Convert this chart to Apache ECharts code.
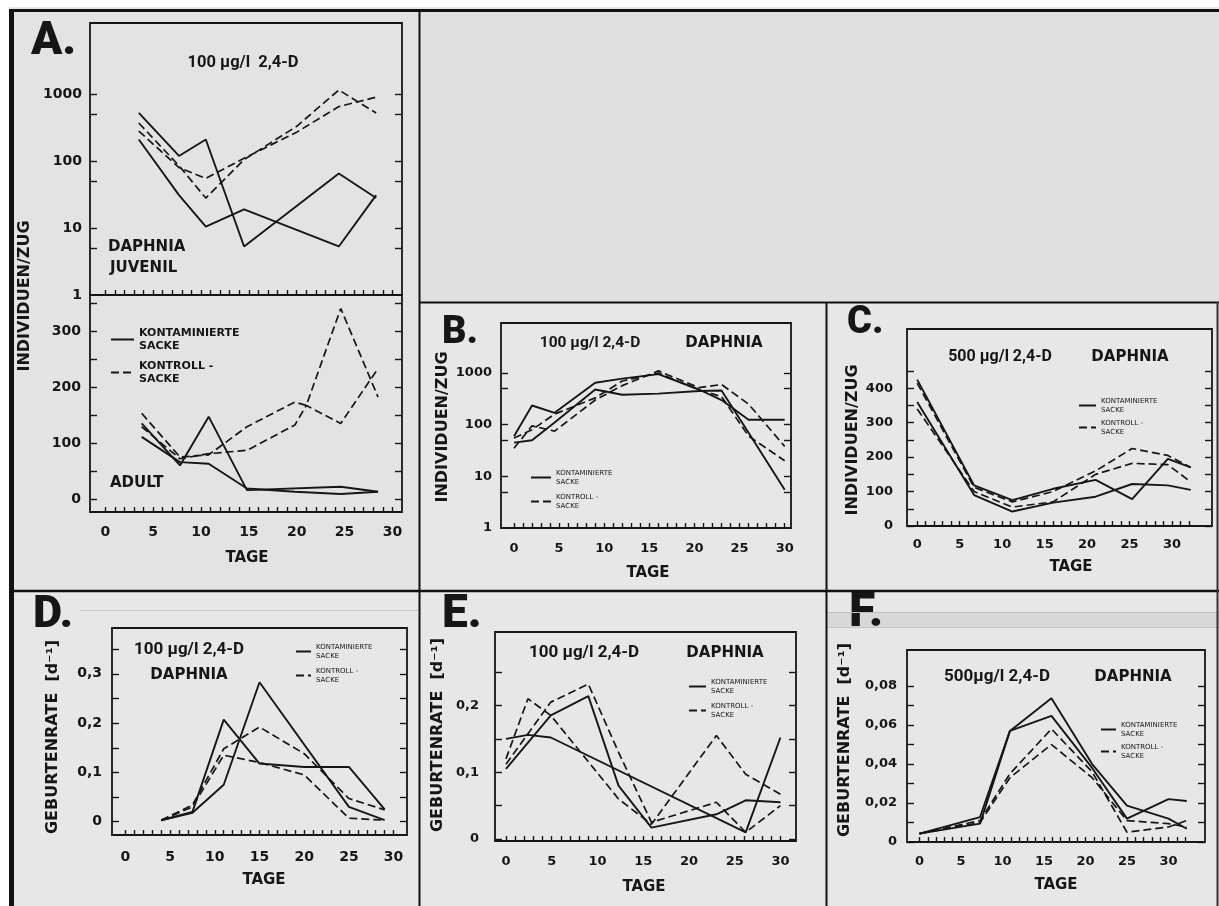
<!DOCTYPE html>
<html><head><meta charset="utf-8">
<script src="https://cdn.jsdelivr.net/npm/echarts@6/dist/echarts.min.js"></script>
<style>html,body{margin:0;padding:0;background:#fff}#c{width:1219px;height:906px}</style>
</head><body><div id="c"></div>
<script>
// ---------------- DATA ----------------
const KONT = 'KONTAMINIERTE\nSACKE';
const KONTR = 'KONTROLL -\nSACKE';

// Panel A, juvenile (log)
const aJuvDays    = [3.5, 7.7, 10.5, 14.5, 20, 24.4, 28.3];
const aJuvKont1   = [525, 119, 210, 5.3, null, 65, 28];
const aJuvKont2   = [210, 31, 10.5, 19, null, 5.3, 31];
const aJuvKontr1  = [370, 85, 28, 105, 330, 1150, 520];
const aJuvKontr2  = [280, 80, 55, 110, 270, 650, 900];
// Panel A, adult (linear)
const aAdDays     = [3.8, 7.8, 10.8, 14.8, 19.8, 21, 24.6, 28.5];
const aAdKont1    = [136, 61, 148, 17, null, null, 23, 14];
const aAdKont2    = [112, 67, 64, 20, 14, null, 10, 14];
const aAdKontr1   = [154, 76, 80, 130, 174, 168, 341, 183];
const aAdKontr2   = [130, 73, 82, 88, 133, 168, 136, 234];
// Panel B (log)
const bDays       = [0, 2, 4.5, 9, 12, 16, 20.5, 23, 26, 30];
const bKont1      = [60, 235, 170, 650, 780, 950, 480, 300, 125, 125];
const bKont2      = [45, 50, 110, 480, 380, 400, 450, 460, 70, 5.5];
const bKontr1     = [35, 95, 75, 300, 570, 1100, 520, 600, 250, 38];
const bKontr2     = [55, 80, 160, 330, 700, 1000, 470, 350, 60, 20];
// Panel C (linear)
const cDays       = [0, 6.7, 11.2, 16, 21, 25.3, 29.5, 32.2];
const cKont1      = [425, 118, 75, 108, 134, 78, 195, 170];
const cKont2      = [360, 90, 42, 68, 85, 122, 118, 105];
const cKontr1     = [415, 112, 70, 100, 160, 225, 205, 170];
const cKontr2     = [340, 100, 55, 70, 150, 182, 178, 128];
// Panel D (birth rate)
const dDays       = [4, 7.5, 11, 15, 20, 25, 29];
const dKont1      = [0.003, 0.02, 0.207, 0.118, 0.111, 0.111, 0.025];
const dKont2      = [0.003, 0.018, 0.075, 0.283, null, 0.03, 0.003];
const dKontr1     = [0.003, 0.034, 0.148, 0.192, 0.138, 0.047, 0.024];
const dKontr2     = [0.003, 0.03, 0.135, 0.12, 0.095, 0.007, 0.003];
// Panel E (birth rate)
const eDays       = [0, 2.4, 4.9, 9, 12.3, 15.9, 23, 26.2, 30];
const eKont1      = [0.15, 0.156, 0.152, null, null, null, null, 0.01, 0.152];
const eKont2      = [0.105, null, 0.185, 0.214, 0.08, 0.017, 0.037, 0.058, 0.055];
const eKontr1     = [0.12, 0.21, 0.185, null, 0.06, 0.022, 0.155, 0.097, 0.067];
const eKontr2     = [0.112, null, 0.205, 0.232, 0.13, 0.025, 0.055, 0.01, 0.05];
// Panel F (birth rate)
const fDays       = [0, 7.3, 10.9, 15.9, 20.8, 25, 30, 32.2];
const fKont1      = [0.0043, 0.0128, 0.057, 0.0737, 0.040, 0.0187, 0.012, 0.0068];
const fKont2      = [0.0043, 0.0094, 0.057, 0.0647, 0.038, 0.012, 0.022, 0.021];
const fKontr1     = [0.0043, 0.011, 0.035, 0.058, 0.036, 0.005, 0.0077, 0.011];
const fKontr2     = [0.0043, 0.010, 0.033, 0.050, 0.033, 0.011, 0.0094, 0.0077];

// Tick labels
const dayLabels   = [0, 5, 10, 15, 20, 25, 30];
const logTicks    = [5, 10, 50, 100, 500, 1000];
const aAdLabels   = [0, 100, 200, 300];
const cLabels     = [0, 100, 200, 300, 400];
const dLabels     = [0, 0.1, 0.2, 0.3];
const eLabels     = [0, 0.1, 0.2];
const fLabels     = [0, 0.02, 0.04, 0.06, 0.08];

// ---------------- BUILD ----------------
const INK = '#161616';
const LF = 'DejaVu Sans';
function steps(a, b, s) { const r = []; for (let k = 0; a + k * s <= b + 1e-9; k++) r.push(+(a + k * s).toFixed(6)); return r; }
function pairs(days, vals) { const r = []; days.forEach((d, i) => { if (vals[i] != null) r.push([d, vals[i]]); }); return r; }
const grids = [], xAxes = [], yAxes = [], series = [];
const tickLine = { color: INK, width: 1.4 };

function addPanel(p) {
  const gi = grids.length;
  grids.push({ left: p.left, top: p.top, width: p.width, height: p.height, show: true,
    borderColor: INK, borderWidth: 1.8, backgroundColor: 'transparent' });
  xAxes.push({ type: 'value', gridIndex: gi, min: p.xMin, max: p.xMax, position: 'bottom',
    axisLine: { show: false, onZero: false }, splitLine: { show: false },
    axisTick: { show: true, inside: true, length: 5, customValues: p.xTicks, lineStyle: tickLine },
    axisLabel: { show: !!p.xLabels, customValues: p.xLabels || [], margin: p.xMargin || 12, color: INK,
      fontSize: p.fs, fontWeight: 'bold', fontFamily: LF } });
  const xi = xAxes.length - 1;
  let yi;
  if (p.log) {
    yAxes.push({ type: 'log', logBase: 10, gridIndex: gi, min: p.yMin, max: p.yMax, position: 'left',
      axisLine: { show: false, onZero: false }, axisTick: { show: false }, splitLine: { show: false },
      axisLabel: { margin: p.yMargin, color: INK, fontSize: p.fs, fontWeight: 'bold', fontFamily: LF,
        formatter: v => (v > 1001 ? '' : String(Math.round(v))) } });
    yi = yAxes.length - 1;
    const lt = p.yTicks.map(v => Math.log10(v));
    ['left', 'right'].forEach(pos => yAxes.push({ type: 'value', gridIndex: gi, position: pos,
      min: Math.log10(p.yMin), max: Math.log10(p.yMax),
      axisLine: { show: false, onZero: false }, splitLine: { show: false }, axisLabel: { show: false },
      axisTick: { show: true, inside: true, length: 7, customValues: lt, lineStyle: tickLine } }));
  } else {
    yAxes.push({ type: 'value', gridIndex: gi, min: p.yMin, max: p.yMax, position: 'left',
      axisLine: { show: false, onZero: false }, splitLine: { show: false },
      axisTick: { show: true, inside: true, length: 7, customValues: p.yTicks, lineStyle: tickLine },
      axisLabel: { customValues: p.yLabels, margin: p.yMargin, color: INK, fontSize: p.fs, fontWeight: 'bold',
        fontFamily: LF, formatter: v => String(v).replace('.', ',') } });
    yi = yAxes.length - 1;
    yAxes.push({ type: 'value', gridIndex: gi, min: p.yMin, max: p.yMax, position: 'right',
      axisLine: { show: false, onZero: false }, splitLine: { show: false }, axisLabel: { show: false },
      axisTick: { show: true, inside: true, length: 7, customValues: p.yTicks, lineStyle: tickLine } });
  }
  p.series.forEach(s => series.push({ type: 'line', name: s.k ? KONT : KONTR, xAxisIndex: xi, yAxisIndex: yi,
    data: pairs(p.days, s.v), symbol: 'none', silent: true, z: 4,
    itemStyle: { color: INK },
    lineStyle: { color: INK, width: s.k ? 1.9 : 1.7, type: s.k ? 'solid' : [8, 4] } }));
}

addPanel({ left: 90, top: 23, width: 312, height: 272, xMin: -1.6, xMax: 31, xTicks: steps(0, 30, 1), xLabels: null,
  log: true, yMin: 1, yMax: 11500, yTicks: logTicks, yMargin: 8, fs: 14, days: aJuvDays,
  series: [{ k: 1, v: aJuvKont1 }, { k: 1, v: aJuvKont2 }, { k: 0, v: aJuvKontr1 }, { k: 0, v: aJuvKontr2 }] });
addPanel({ left: 90, top: 295, width: 312, height: 217, xMin: -1.6, xMax: 31, xTicks: steps(0, 30, 1), xLabels: dayLabels,
  xMargin: 13, yMin: -22, yMax: 365, yTicks: steps(0, 350, 50), yLabels: aAdLabels, yMargin: 9, fs: 14, days: aAdDays,
  series: [{ k: 1, v: aAdKont1 }, { k: 1, v: aAdKont2 }, { k: 0, v: aAdKontr1 }, { k: 0, v: aAdKontr2 }] });
addPanel({ left: 501, top: 323, width: 290, height: 205, xMin: -1.44, xMax: 30.7, xTicks: steps(0, 30, 1), xLabels: dayLabels,
  xMargin: 14, log: true, yMin: 1, yMax: 9300, yTicks: logTicks, yMargin: 9, fs: 13, days: bDays,
  series: [{ k: 1, v: bKont1 }, { k: 1, v: bKont2 }, { k: 0, v: bKontr1 }, { k: 0, v: bKontr2 }] });
addPanel({ left: 907, top: 329, width: 305, height: 197, xMin: -1.2, xMax: 34.7, xTicks: steps(0, 32, 1), xLabels: dayLabels,
  xMargin: 12, yMin: 0, yMax: 572, yTicks: steps(0, 450, 50), yLabels: cLabels, yMargin: 14, fs: 13, days: cDays,
  series: [{ k: 1, v: cKont1 }, { k: 1, v: cKont2 }, { k: 0, v: cKontr1 }, { k: 0, v: cKontr2 }] });
addPanel({ left: 112, top: 628, width: 295, height: 207, xMin: -1.5, xMax: 31.5, xTicks: steps(0, 30, 1), xLabels: dayLabels,
  xMargin: 15, yMin: -0.027, yMax: 0.393, yTicks: steps(0, 0.35, 0.05), yLabels: dLabels, yMargin: 10, fs: 14, days: dDays,
  series: [{ k: 1, v: dKont1 }, { k: 1, v: dKont2 }, { k: 0, v: dKontr1 }, { k: 0, v: dKontr2 }] });
addPanel({ left: 495, top: 632, width: 301, height: 209, xMin: -1.2, xMax: 31.7, xTicks: steps(0, 30, 1), xLabels: dayLabels,
  xMargin: 14, yMin: -0.003, yMax: 0.31, yTicks: steps(0, 0.25, 0.05), yLabels: eLabels, yMargin: 16, fs: 13, days: eDays,
  series: [{ k: 1, v: eKont1 }, { k: 1, v: eKont2 }, { k: 0, v: eKontr1 }, { k: 0, v: eKontr2 }] });
addPanel({ left: 907, top: 650, width: 298, height: 192, xMin: -1.5, xMax: 34.4, xTicks: steps(0, 32, 1), xLabels: dayLabels,
  xMargin: 13, yMin: 0, yMax: 0.0985, yTicks: steps(0, 0.08, 0.01), yLabels: fLabels, yMargin: 10, fs: 13, days: fDays,
  series: [{ k: 1, v: fKont1 }, { k: 1, v: fKont2 }, { k: 0, v: fKontr1 }, { k: 0, v: fKontr2 }] });

function legend(left, top, w, gap, fs, bold) {
  return { left, top, orient: 'vertical', padding: 0, itemWidth: w, itemHeight: 10, itemGap: gap,
    selectedMode: false, data: [KONT, KONTR],
    itemStyle: { color: 'rgba(0,0,0,0)', borderColor: 'rgba(0,0,0,0)', borderWidth: 0, opacity: 0 },
    textStyle: { fontSize: fs, lineHeight: fs + 1.5, fontFamily: LF, fontWeight: bold ? 'bold' : 'normal', color: INK } };
}
const legends = [
  legend(110, 327, 23, 8, 11, true),
  legend(530, 469, 20, 7, 7, false),
  legend(1078, 397, 17, 5, 7, false),
  legend(295, 643, 15, 7, 7, false),
  legend(688, 678, 17, 7, 7, false),
  legend(1100, 721, 15, 5, 7, false)
];

function txt(x, y, text, size, opts) {
  opts = opts || {};
  return { type: 'text', x, y, rotation: opts.rot || 0, silent: true, z: 5,
    style: { text, fill: INK, fontSize: size, fontFamily: opts.ff || LF, fontWeight: opts.fw || 'bold',
      align: opts.align || 'center', verticalAlign: 'middle' } };
}
function ln(x1, y1, x2, y2, w, c) {
  return { type: 'line', silent: true, z: 6, shape: { x1, y1, x2, y2 }, style: { stroke: c || '#111', lineWidth: w } };
}
const RB = 'Roboto';
const graphics = [
  { type: 'rect', silent: true, z: -1, shape: { x: 9, y: 7, width: 1210, height: 899 }, style: { fill: '#e7e7e7' } },
  { type: 'rect', silent: true, z: -1, shape: { x: 420, y: 12, width: 799, height: 290 }, style: { fill: '#e0e0e0' } },
  { type: 'rect', silent: true, z: -1, shape: { x: 14, y: 12, width: 405, height: 578 }, style: { fill: '#e3e3e3' } },
  { type: 'rect', silent: true, z: -1, shape: { x: 827, y: 612, width: 392, height: 16 }, style: { fill: '#d8d8d8' } },
  ln(827, 612.5, 1219, 612.5, 1, '#bdbdbd'), ln(827, 627.5, 1219, 627.5, 1, '#c4c4c4'),
  ln(80, 610.5, 418, 610.5, 1, '#c8c8c8'),
  ln(9, 10.5, 1219, 10.5, 3), ln(11.5, 9, 11.5, 906, 5),
  ln(419.5, 10, 419.5, 906, 2), ln(419, 302.5, 1219, 302.5, 2),
  ln(12, 591, 1219, 591, 2.5), ln(826.5, 302, 826.5, 906, 2), ln(1217.5, 302, 1217.5, 906, 2, '#333'),
  // panel letters
  txt(31, 42, 'A.', 46, { ff: RB, align: 'left', fw: 900 }), txt(442, 333, 'B.', 38, { ff: RB, align: 'left', fw: 900 }),
  txt(847, 323, 'C.', 38, { ff: RB, align: 'left', fw: 900 }), txt(33, 616, 'D.', 45, { ff: RB, align: 'left', fw: 900 }),
  txt(442, 615, 'E.', 46, { ff: RB, align: 'left', fw: 900 }), txt(849, 614, 'F.', 48, { ff: RB, align: 'left', fw: 900 }),
  // titles
  txt(243, 63, '100 µg/l  2,4-D', 16.5, { ff: RB }),
  txt(590, 343, '100 µg/l 2,4-D', 15.5, { ff: RB }), txt(724, 343, 'DAPHNIA', 15),
  txt(1000, 357, '500 µg/l 2,4-D', 16, { ff: RB }), txt(1130, 357, 'DAPHNIA', 15),
  txt(189, 650, '100 µg/l 2,4-D', 17, { ff: RB }), txt(189, 675, 'DAPHNIA', 15),
  txt(584, 653, '100 µg/l 2,4-D', 17, { ff: RB }), txt(725, 653, 'DAPHNIA', 15),
  txt(997, 677, '500µg/l 2,4-D', 17, { ff: RB }), txt(1133, 677, 'DAPHNIA', 15),
  txt(108, 247, 'DAPHNIA', 15, { align: 'left' }), txt(110, 268, 'JUVENIL', 15, { align: 'left' }),
  txt(110, 483, 'ADULT', 15, { align: 'left' }),
  // x names
  txt(247, 558, 'TAGE', 15), txt(648, 573, 'TAGE', 15), txt(1071, 567, 'TAGE', 15),
  txt(264, 880, 'TAGE', 15), txt(644, 887, 'TAGE', 15), txt(1056, 885, 'TAGE', 15),
  // y names
  txt(25, 296, 'INDIVIDUEN/ZUG', 16, { rot: Math.PI / 2 }), txt(443, 427, 'INDIVIDUEN/ZUG', 16, { rot: Math.PI / 2 }),
  txt(853, 440, 'INDIVIDUEN/ZUG', 16, { rot: Math.PI / 2 }),
  txt(53, 737, 'GEBURTENRATE  [d⁻¹]', 16, { rot: Math.PI / 2 }), txt(438, 735, 'GEBURTENRATE  [d⁻¹]', 16, { rot: Math.PI / 2 }),
  txt(845, 740, 'GEBURTENRATE  [d⁻¹]', 16, { rot: Math.PI / 2 })
];

const chart = echarts.init(document.getElementById('c'), null, { renderer: 'canvas', width: 1219, height: 906 });
chart.setOption({
  backgroundColor: '#ffffff', animation: false,
  grid: grids, xAxis: xAxes, yAxis: yAxes, series, legend: legends, graphic: graphics
});
</script></body></html>
